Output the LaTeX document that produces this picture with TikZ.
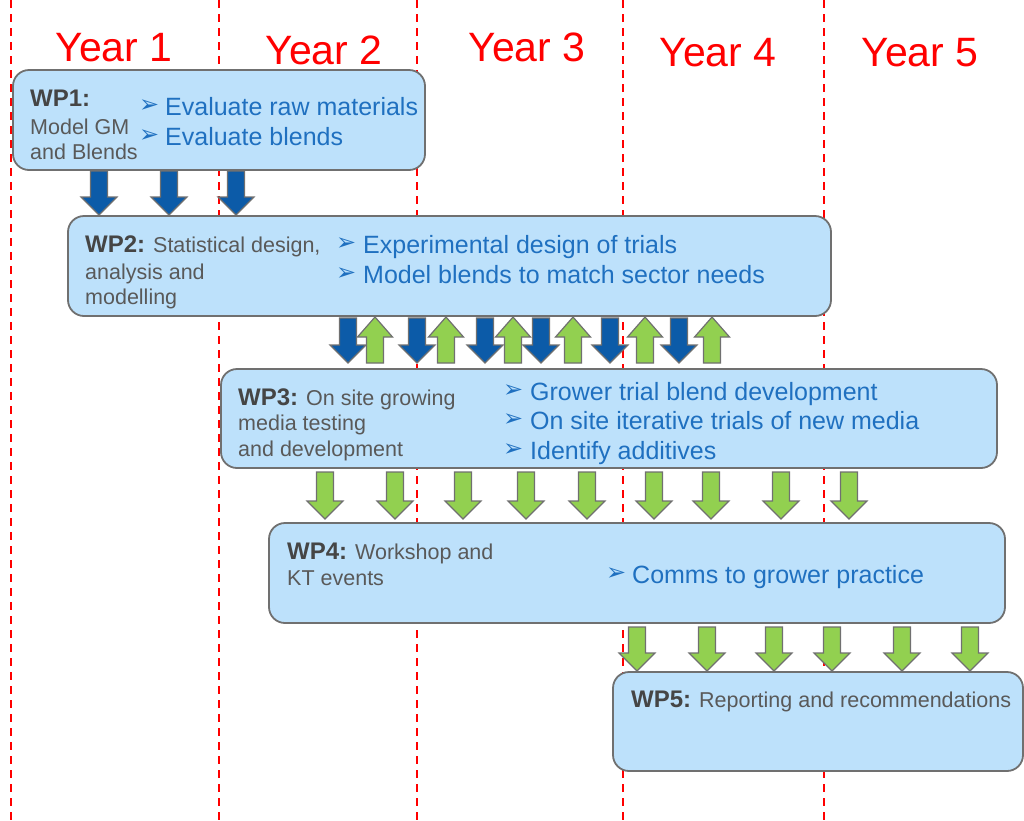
\documentclass[tikz,border=0pt]{standalone}
\usepackage{fontspec}
\setmainfont{Liberation Sans}
\newfontfamily\symf{DejaVu Sans}
\definecolor{boxfill}{HTML}{BDE1FB}
\definecolor{boxline}{HTML}{707070}
\definecolor{arrblue}{HTML}{0C5BA8}
\definecolor{arrgreen}{HTML}{92D050}
\definecolor{txtgrey}{HTML}{595959}
\definecolor{lblgrey}{HTML}{454545}
\definecolor{txtblue}{HTML}{1F70C0}
\newcommand\wpl[1]{{\fontsize{24}{24}\selectfont\bfseries\color{lblgrey}#1}}
\newcommand\wpDown[4]{\filldraw[#4] (#1-8.5,#2) -- (#1+8.5,#2) -- (#1+8.5,#3-18) -- (#1+18,#3-18) -- (#1,#3) -- (#1-18,#3-18) -- (#1-8.5,#3-18) -- cycle;}
\newcommand\wpUp[4]{\filldraw[#4] (#1-8.5,#3) -- (#1+8.5,#3) -- (#1+8.5,#2+20) -- (#1+17.5,#2+20) -- (#1,#2) -- (#1-17.5,#2+20) -- (#1-8.5,#2+20) -- cycle;}
\begin{document}
\begin{tikzpicture}[x=1pt,y=-1pt,
  yeardash/.style={draw=red, line width=1.5pt, dash pattern=on 8pt off 6pt},
  yearlbl/.style={text=red, font=\fontsize{41}{41}\selectfont, anchor=base, inner sep=0},
  wpbox/.style={draw=boxline, fill=boxfill, line width=1.8pt, rounded corners=16pt, anchor=north west, inner sep=0, outer sep=0},
  body/.style={text=txtgrey, font=\fontsize{21.5}{21.5}\selectfont, anchor=base west, inner sep=0},
  bul/.style={text=txtblue, font=\fontsize{25}{25}\selectfont, anchor=base west, inner sep=0},
  bmark/.style={text=txtblue, font=\symf\fontsize{24}{24}\selectfont, anchor=west, inner sep=0},
  bluearr/.style={fill=arrblue, draw=boxline, line width=1.2pt, line join=miter},
  greenarr/.style={fill=arrgreen, draw=boxline, line width=1.2pt, line join=miter}]
\useasboundingbox (0,0) rectangle (1024,820);
% year separators
\foreach \xx/\nm in {11/d1,219/d2,417/d3,623/d4,824/d5}{
  \coordinate (\nm t) at (\xx,0);
  \coordinate (\nm b) at (\xx,820);
  \draw[yeardash] (\nm t) -- (\nm b);
}
% year labels
\node[yearlbl] (y1) at (114,61) {Year 1};
\node[yearlbl] (y2) at (324,64) {Year 2};
\node[yearlbl] (y3) at (527,61) {Year 3};
\node[yearlbl] (y4) at (718,66) {Year 4};
\node[yearlbl] (y5) at (920,66) {Year 5};
% boxes
\node[wpbox, minimum width=412, minimum height=100] (wp1) at (13,70) {};
\node[wpbox, minimum width=763, minimum height=100] (wp2) at (68,216) {};
\node[wpbox, minimum width=776, minimum height=99] (wp3) at (221,369) {};
\node[wpbox, minimum width=736, minimum height=100] (wp4) at (269,523) {};
\node[wpbox, minimum width=410, minimum height=99] (wp5) at (613,672) {};
% arrows WP1 -> WP2
\foreach \xx in {99,169,236}{\wpDown{\xx}{171}{215}{bluearr}}
% arrows WP2 <-> WP3
\wpDown{348}{318}{363}{bluearr}
\wpUp{375}{317}{363}{greenarr}
\wpDown{417}{318}{363}{bluearr}
\wpUp{446}{317}{363}{greenarr}
\wpDown{485}{318}{363}{bluearr}
\wpUp{513}{317}{363}{greenarr}
\wpDown{541}{318}{363}{bluearr}
\wpUp{573}{317}{363}{greenarr}
\wpDown{610}{318}{363}{bluearr}
\wpUp{645}{317}{363}{greenarr}
\wpDown{679}{318}{363}{bluearr}
\wpUp{712}{317}{363}{greenarr}
% arrows WP3 -> WP4
\foreach \xx in {325,395,463,526,587,654,711,781,849}{\wpDown{\xx}{472}{519}{greenarr}}
% arrows WP4 -> WP5
\foreach \xx in {637,707,774,832,902,970}{\wpDown{\xx}{627}{671}{greenarr}}
% WP1 text
\node[body] (t1a) at (30,106) {\wpl{WP1:}};
\node[body] (t1b) at (30,134) {Model GM};
\node[body] (t1c) at (30,159) {and Blends};
\node[bmark] (m1a) at (139,106) {➢};
\node[bul] (b1a) at (165,115) {Evaluate raw materials};
\node[bmark] (m1b) at (139,136) {➢};
\node[bul] (b1b) at (165,145) {Evaluate blends};
% WP2 text
\node[body] (t2a) at (85,252) {\wpl{WP2:} Statistical design,};
\node[body] (t2b) at (85,279) {analysis and};
\node[body] (t2c) at (85,304) {modelling};
\node[bmark] (m2a) at (336,244) {➢};
\node[bul] (b2a) at (363,253) {Experimental design of trials};
\node[bmark] (m2b) at (336,274) {➢};
\node[bul] (b2b) at (363,283) {Model blends to match sector needs};
% WP3 text
\node[body] (t3a) at (238,405) {\wpl{WP3:} On site growing};
\node[body] (t3b) at (238,430) {media testing};
\node[body] (t3c) at (238,456) {and development};
\node[bmark] (m3a) at (503,391) {➢};
\node[bul] (b3a) at (530,400) {Grower trial blend development};
\node[bmark] (m3b) at (503,420) {➢};
\node[bul] (b3b) at (530,429) {On site iterative trials of new media};
\node[bmark] (m3c) at (503,450) {➢};
\node[bul] (b3c) at (530,459) {Identify additives};
% WP4 text
\node[body] (t4a) at (287,559) {\wpl{WP4:} Workshop and};
\node[body] (t4b) at (287,585) {KT events};
\node[bmark] (m4a) at (606,574) {➢};
\node[bul] (b4a) at (632,583) {Comms to grower practice};
% WP5 text
\node[body] (t5a) at (631,707) {\wpl{WP5:} Reporting and recommendations};
\end{tikzpicture}
\end{document}
